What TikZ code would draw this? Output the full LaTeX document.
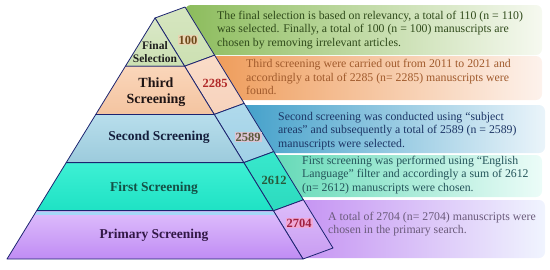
\documentclass[tikz,border=0pt]{standalone}
\usepackage{fontspec}
\setmainfont{Liberation Serif}
\usetikzlibrary{calc}
\definecolor{edge}{HTML}{1C2470}
\definecolor{tgreen}{HTML}{2F4A1A}
\definecolor{torange}{HTML}{A05A2C}
\definecolor{tblue}{HTML}{1C3565}
\definecolor{taqua}{HTML}{24545A}
\definecolor{tpurple}{HTML}{6A5A7A}
% boxes
\definecolor{gA}{HTML}{8CBC5C}\definecolor{gB}{HTML}{B8D59C}\definecolor{gC}{HTML}{F6F9F0}
\definecolor{oA}{HTML}{EE9955}\definecolor{oB}{HTML}{F6C4A0}\definecolor{oC}{HTML}{FDF2EC}
\definecolor{bA}{HTML}{3D9DC8}\definecolor{bB}{HTML}{8CC6E0}\definecolor{bC}{HTML}{EAF4FA}
\definecolor{aA}{HTML}{5ED8B4}\definecolor{aB}{HTML}{A0ECD8}\definecolor{aC}{HTML}{ECFCF8}
\definecolor{pA}{HTML}{C490F2}\definecolor{pB}{HTML}{DCC4F8}\definecolor{pC}{HTML}{F0F4FE}
% faces
\definecolor{s1t}{HTML}{D6E6C0}\definecolor{s1b}{HTML}{CCE0B2}
\definecolor{s2t}{HTML}{FADCC8}\definecolor{s2b}{HTML}{F7D2BC}
\definecolor{s3t}{HTML}{B0DAEC}\definecolor{s3b}{HTML}{A0D0E6}
\definecolor{s4t}{HTML}{38E8CC}\definecolor{s4b}{HTML}{2CDABE}
\definecolor{s5t}{HTML}{DEBEFA}\definecolor{s5b}{HTML}{C89CF2}
\definecolor{f1t}{HTML}{DAE8C8}\definecolor{f1b}{HTML}{CCE0B2}
\definecolor{f2t}{HTML}{FAD6BA}\definecolor{f2b}{HTML}{F4C4A0}
\definecolor{f3t}{HTML}{B8DEEC}\definecolor{f3b}{HTML}{9CCBDC}
\definecolor{f4t}{HTML}{3EF0D4}\definecolor{f4b}{HTML}{1EE2C4}
\definecolor{f5t}{HTML}{DEBEFC}\definecolor{f5b}{HTML}{C08CF4}
\definecolor{band}{HTML}{A4D8F8}
\definecolor{hl1}{HTML}{E8D4B2}\definecolor{hl3}{HTML}{DAC4D4}\definecolor{hl5}{HTML}{F0A8D6}
\definecolor{c1}{HTML}{6E4A1A}\definecolor{c2}{HTML}{B02828}\definecolor{c3}{HTML}{5A583A}
\definecolor{c4}{HTML}{285A3C}\definecolor{c5}{HTML}{A02040}
\definecolor{l1}{HTML}{1E1E1E}\definecolor{l2}{HTML}{1E1414}\definecolor{l3}{HTML}{141E3C}
\definecolor{l4}{HTML}{145046}\definecolor{l5}{HTML}{321846}
\begin{document}
\begin{tikzpicture}[x=1pt,y=-1pt,
  face/.style={draw=edge,line width=0.8pt,line join=round},
  tbox/.style={rounded corners=6pt},
  boxtxt/.style={anchor=west,align=left,inner sep=0pt,font=\fontsize{11.8}{13.6}\selectfont},
  lvl/.style={font=\bfseries\fontsize{13.5}{15}\selectfont,align=center,inner sep=0pt},
  num/.style={font=\bfseries\fontsize{12.5}{14}\selectfont,inner sep=1pt}]
\useasboundingbox (0,0) rectangle (550,269);
% pyramid coordinates
\coordinate (L0) at (155,18);   \coordinate (R0) at (155,18);   \coordinate (B0) at (185,7);
\coordinate (L1) at (125.4,66.2); \coordinate (R1) at (184.6,66.2); \coordinate (B1) at (214.6,55.2);
\coordinate (L2) at (95.8,114.4); \coordinate (R2) at (214.2,114.4); \coordinate (B2) at (244.2,103.4);
\coordinate (L3) at (66.2,162.6); \coordinate (R3) at (243.8,162.6); \coordinate (B3) at (273.8,151.6);
\coordinate (L4) at (36.6,210.8); \coordinate (R4) at (273.4,210.8); \coordinate (B4) at (303.4,199.8);
\coordinate (L5) at (7,259);      \coordinate (R5) at (303,259);     \coordinate (B5) at (333,248);
% text boxes
\shade[tbox,left color=gA,middle color=gB,right color=gC] (185,5) rectangle (542,55);
\shade[tbox,left color=oA,middle color=oB,right color=oC] (200,56) rectangle (542,100);
\shade[tbox,left color=bA,middle color=bB,right color=bC] (230,105) rectangle (545,153);
\shade[tbox,left color=aA,middle color=aB,right color=aC] (260,155) rectangle (542,197);
\shade[tbox,left color=pA,middle color=pB,right color=pC] (290,200) rectangle (545,258);
% side faces
\shade[face,top color=s1t,bottom color=s1b] (R0) -- (B0) -- (B1) -- (R1) -- cycle;
\shade[face,top color=s2t,bottom color=s2b] (R1) -- (B1) -- (B2) -- (R2) -- cycle;
\shade[face,top color=s3t,bottom color=s3b] (R2) -- (B2) -- (B3) -- (R3) -- cycle;
\shade[face,top color=s4t,bottom color=s4b] (R3) -- (B3) -- (B4) -- (R4) -- cycle;
\shade[face,top color=s5t,bottom color=s5b] (R4) -- (B4) -- (B5) -- (R5) -- cycle;
% front faces
\shade[face,top color=f1t,bottom color=f1b] (L0) -- (R1) -- (L1) -- cycle;
\shade[face,top color=f2t,bottom color=f2b] (L1) -- (R1) -- (R2) -- (L2) -- cycle;
\shade[face,top color=f3t,bottom color=f3b] (L2) -- (R2) -- (R3) -- (L3) -- cycle;
\shade[face,top color=f4t,bottom color=f4b] (L3) -- (R3) -- (R4) -- (L4) -- cycle;
\shade[face,top color=f5t,bottom color=f5b] (L4) -- (R4) -- (R5) -- (L5) -- cycle;
\fill[band] ($(L4)!0.02!(L5)+(1,0)$) -- ($(R4)!0.02!(R5)+(-1,0)$) -- ($(R4)!0.085!(R5)+(-1,0)$) -- ($(L4)!0.085!(L5)+(1,0)$) -- cycle;
\draw[edge,line width=0.8pt] (L4) -- (R4);
% level labels
\node[lvl,font=\bfseries\fontsize{11.5}{13}\selectfont,text=l1] (lf) at (155,52) {Final\\Selection};
\node[lvl,font=\bfseries\fontsize{14}{15.5}\selectfont,text=l2] (lt) at (156,92) {Third\\Screening};
\node[lvl,text=l3] (ls) at (159,137) {Second Screening};
\node[lvl,text=l4] (lfi) at (154,188) {First Screening};
\node[lvl,text=l5] (lp) at (154,235) {Primary Screening};
% numbers
\node[num,fill=hl1,text=c1] (n1) at (188,40) {100};
\node[num,text=c2] (n2) at (215,83) {2285};
\node[num,fill=hl3,text=c3] (n3) at (248,137) {2589};
\node[num,text=c4] (n4) at (274,180) {2612};
\node[num,fill=hl5,text=c5] (n5) at (299,223) {2704};
% box texts
\node[boxtxt,text=tgreen] (t1) at (217,30) {The final selection is based on relevancy, a total of 110 (n = 110)\\was selected. Finally, a total of 100 (n = 100) manuscripts are\\chosen by removing irrelevant articles.};
\node[boxtxt,text=torange] (t2) at (246,77) {Third screening were carried out from 2011 to 2021 and\\accordingly a total of 2285 (n= 2285) manuscripts were\\found.};
\node[boxtxt,text=tblue] (t3) at (278,131) {Second screening was conducted using “subject\\areas” and subsequently a total of 2589 (n = 2589)\\manuscripts were selected.};
\node[boxtxt,text=taqua] (t4) at (302,175) {First screening was performed using “English\\Language” filter and accordingly a sum of 2612\\(n= 2612) manuscripts were chosen.};
\node[boxtxt,text=tpurple] (t5) at (328,224) {A total of 2704 (n= 2704) manuscripts were\\chosen in the primary search.};
\end{tikzpicture}
\end{document}
